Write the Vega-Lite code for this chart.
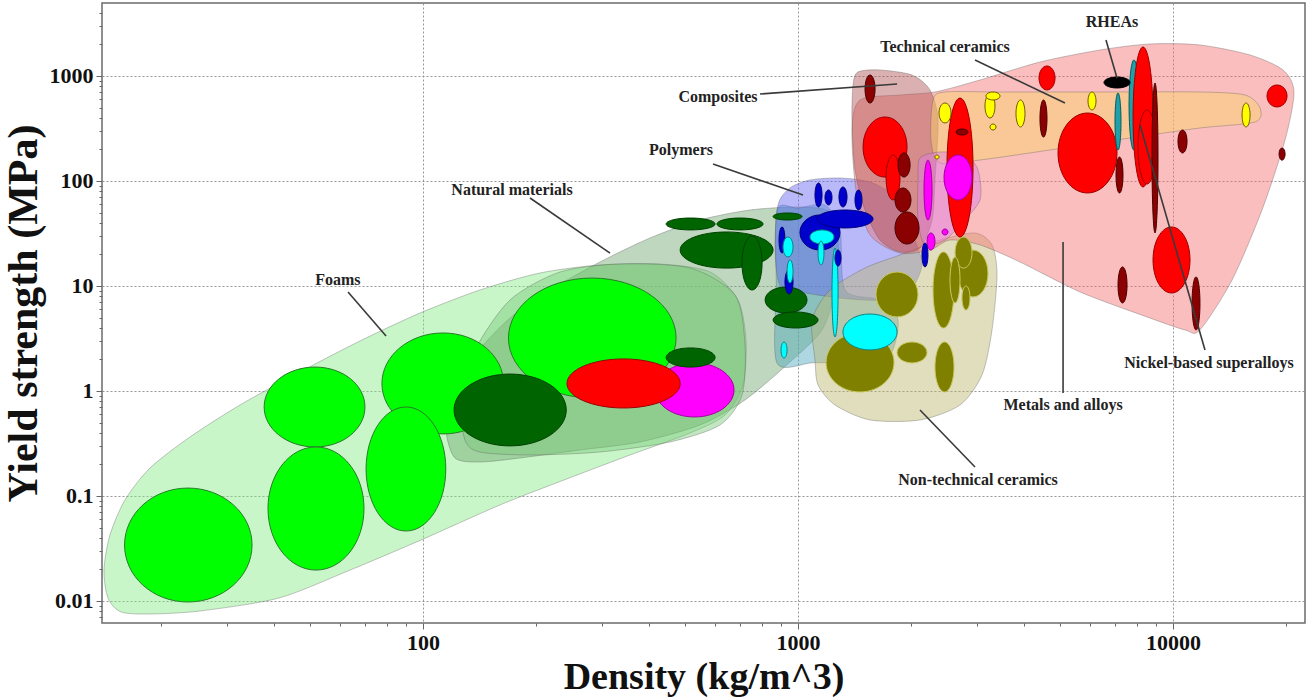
{
  "$schema": "https://vega.github.io/schema/vega-lite/v6.json",
  "width": 1203,
  "height": 620,
  "autosize": {"type": "none"},
  "padding": {"left": 102, "top": 3, "right": 2, "bottom": 75},
  "background": "white",
  "config": {"view": {"stroke": "#6b6b6b", "strokeWidth": 1.5}, "font": "Liberation Serif"},
  "resolve": {"scale": {"fill": "independent", "stroke": "independent"}},
  "datasets": {
    "env": [
      {"g":"a","i":0,"x":15.66,"y":0.00786},{"g":"a","i":1,"x":14.45,"y":0.01068},{"g":"a","i":2,"x":14.1,"y":0.01973},{"g":"a","i":3,"x":14.63,"y":0.0425},{"g":"a","i":4,"x":16.04,"y":0.0916},{"g":"a","i":5,"x":18.71,"y":0.1848},{"g":"a","i":6,"x":23.91,"y":0.3646},{"g":"a","i":7,"x":32.51,"y":0.7356},{"g":"a","i":8,"x":46.99,"y":1.517},{"g":"a","i":9,"x":67.92,"y":2.994},{"g":"a","i":10,"x":98.2,"y":5.53},{"g":"a","i":11,"x":141.9,"y":9.16},{"g":"a","i":12,"x":205.1,"y":13.3},{"g":"a","i":13,"x":296.5,"y":15.85},{"g":"a","i":14,"x":428.5,"y":16.2},{"g":"a","i":15,"x":582.6,"y":13.6},{"g":"a","i":16,"x":691.8,"y":7.36},{"g":"a","i":17,"x":726.6,"y":3.06},{"g":"a","i":18,"x":713.4,"y":1.141},{"g":"a","i":19,"x":638.8,"y":0.591},{"g":"a","i":20,"x":515.2,"y":0.398},{"g":"a","i":21,"x":356.5,"y":0.2457},{"g":"a","i":22,"x":237.7,"y":0.142},{"g":"a","i":23,"x":160.4,"y":0.0821},{"g":"a","i":24,"x":98.8,"y":0.0381},{"g":"a","i":25,"x":63.9,"y":0.0197},{"g":"a","i":26,"x":41.3,"y":0.01068},{"g":"a","i":27,"x":25.43,"y":0.00803},{"g":"a","i":28,"x":18.71,"y":0.00752},
      {"g":"b","i":0,"x":121.7,"y":0.2301},{"g":"b","i":1,"x":115.2,"y":0.4252},{"g":"b","i":2,"x":119.5,"y":0.9161},{"g":"b","i":3,"x":137.6,"y":2.202},{"g":"b","i":4,"x":170.6,"y":4.96},{"g":"b","i":5,"x":218.2,"y":9.16},{"g":"b","i":6,"x":296.5,"y":16.93},{"g":"b","i":7,"x":403,"y":28.65},{"g":"b","i":8,"x":548,"y":42.5},{"g":"b","i":9,"x":744.7,"y":52.9},{"g":"b","i":10,"x":1012,"y":56.6},{"g":"b","i":11,"x":1217,"y":50.7},{"g":"b","i":12,"x":1279,"y":27.4},{"g":"b","i":13,"x":1255,"y":9.16},{"g":"b","i":14,"x":1159,"y":3.81},{"g":"b","i":15,"x":952,"y":1.889},{"g":"b","i":16,"x":722.2,"y":0.821},{"g":"b","i":17,"x":548,"y":0.4746},{"g":"b","i":18,"x":379,"y":0.3268},{"g":"b","i":19,"x":262.2,"y":0.2742},{"g":"b","i":20,"x":181.4,"y":0.2301},{"g":"b","i":21,"x":141.9,"y":0.2108},
      {"g":"c","i":0,"x":129.4,"y":0.3415},{"g":"c","i":1,"x":125.5,"y":0.821},{"g":"c","i":2,"x":137.6,"y":2.457},{"g":"c","i":3,"x":170.6,"y":7.36},{"g":"c","i":4,"x":231.9,"y":13.6},{"g":"c","i":5,"x":335.2,"y":16.2},{"g":"c","i":6,"x":515.2,"y":14.84},{"g":"c","i":7,"x":679.2,"y":8.21},{"g":"c","i":8,"x":722.2,"y":2.743},{"g":"c","i":9,"x":709,"y":0.916},{"g":"c","i":10,"x":619.4,"y":0.4746},{"g":"c","i":11,"x":455.7,"y":0.3268},{"g":"c","i":12,"x":296.5,"y":0.2624},{"g":"c","i":13,"x":192.9,"y":0.2457},{"g":"c","i":14,"x":141.9,"y":0.2624},
      {"g":"d","i":0,"x":879,"y":52.9},{"g":"d","i":1,"x":1000,"y":55},{"g":"d","i":2,"x":1180,"y":59.1},{"g":"d","i":3,"x":1294,"y":34.15},{"g":"d","i":4,"x":1335,"y":9.16},{"g":"d","i":5,"x":1654,"y":7.36},{"g":"d","i":6,"x":1848,"y":4.745},{"g":"d","i":7,"x":1759,"y":2.202},{"g":"d","i":8,"x":1463,"y":1.889},{"g":"d","i":9,"x":1100,"y":1.86},{"g":"d","i":10,"x":879,"y":1.848},{"g":"d","i":11,"x":875,"y":10},
      {"g":"e","i":0,"x":884.4,"y":59.1},{"g":"e","i":1,"x":952,"y":85.8},{"g":"e","i":2,"x":1076,"y":102.2},{"g":"e","i":3,"x":1294,"y":106.8},{"g":"e","i":4,"x":1556,"y":97.8},{"g":"e","i":5,"x":1792,"y":73.6},{"g":"e","i":6,"x":1929,"y":47.5},{"g":"e","i":7,"x":2051,"y":27.4},{"g":"e","i":8,"x":2141,"y":15.85},{"g":"e","i":9,"x":1990,"y":9.16},{"g":"e","i":10,"x":1654,"y":7.36},{"g":"e","i":11,"x":1294,"y":7.69},{"g":"e","i":12,"x":1012,"y":8.77},{"g":"e","i":13,"x":895.4,"y":10.2},{"g":"e","i":14,"x":868.5,"y":22},
      {"g":"f","i":0,"x":1110,"y":1.973},{"g":"f","i":1,"x":1090,"y":4.745},{"g":"f","i":2,"x":1217,"y":9.16},{"g":"f","i":3,"x":1509,"y":14.84},{"g":"f","i":4,"x":1871,"y":19.73},{"g":"f","i":5,"x":2391,"y":27.4},{"g":"f","i":6,"x":2965,"y":31.97},{"g":"f","i":7,"x":3291,"y":24.6},{"g":"f","i":8,"x":3394,"y":12.73},{"g":"f","i":9,"x":3291,"y":3.81},{"g":"f","i":10,"x":3095,"y":1.42},{"g":"f","i":11,"x":2704,"y":0.7356},{"g":"f","i":12,"x":2115,"y":0.5296},{"g":"f","i":13,"x":1556,"y":0.5296},{"g":"f","i":14,"x":1255,"y":0.7356},{"g":"f","i":15,"x":1131,"y":1.141},
      {"g":"g","i":0,"x":1393,"y":306},{"g":"g","i":1,"x":1463,"y":591},{"g":"g","i":2,"x":1871,"y":659},{"g":"g","i":3,"x":2319,"y":704},{"g":"g","i":4,"x":3057,"y":916},{"g":"g","i":5,"x":4418,"y":1359},{"g":"g","i":6,"x":6389,"y":1769},{"g":"g","i":7,"x":8683,"y":2018},{"g":"g","i":8,"x":11800,"y":1974},{"g":"g","i":9,"x":16050,"y":1585},{"g":"g","i":10,"x":19650,"y":1141},{"g":"g","i":11,"x":21020,"y":704},{"g":"g","i":12,"x":19900,"y":245.8},{"g":"g","i":13,"x":17270,"y":52.9},{"g":"g","i":14,"x":14370,"y":11.4},{"g":"g","i":15,"x":11800,"y":3.81},{"g":"g","i":16,"x":10770,"y":3.81},{"g":"g","i":17,"x":8525,"y":5.07},{"g":"g","i":18,"x":5649,"y":8.77},{"g":"g","i":19,"x":3908,"y":16.93},{"g":"g","i":20,"x":3057,"y":24.6},{"g":"g","i":21,"x":2543,"y":27.4},{"g":"g","i":22,"x":2249,"y":22},{"g":"g","i":23,"x":1871,"y":20.6},{"g":"g","i":24,"x":1556,"y":30.6},{"g":"g","i":25,"x":1428,"y":82.1},
      {"g":"h","i":0,"x":1445,"y":1092},{"g":"h","i":1,"x":1654,"y":1141},{"g":"h","i":2,"x":2014,"y":1022},{"g":"h","i":3,"x":2249,"y":735.6},{"g":"h","i":4,"x":2362,"y":381},{"g":"h","i":5,"x":2319,"y":102.2},{"g":"h","i":6,"x":2277,"y":42.5},{"g":"h","i":7,"x":2115,"y":23},{"g":"h","i":8,"x":1871,"y":21.1},{"g":"h","i":9,"x":1654,"y":27.4},{"g":"h","i":10,"x":1509,"y":52.9},{"g":"h","i":11,"x":1419,"y":127.3},{"g":"h","i":12,"x":1393,"y":381},{"g":"h","i":13,"x":1402,"y":821},
      {"g":"i","i":0,"x":2291,"y":591},{"g":"i","i":1,"x":2466,"y":704},{"g":"i","i":2,"x":3457,"y":704},{"g":"i","i":3,"x":6389,"y":704},{"g":"i","i":4,"x":11800,"y":704},{"g":"i","i":5,"x":15560,"y":659},{"g":"i","i":6,"x":17060,"y":495.7},{"g":"i","i":7,"x":16550,"y":364.7},{"g":"i","i":8,"x":11800,"y":319.7},{"g":"i","i":9,"x":7681,"y":256.7},{"g":"i","i":10,"x":4699,"y":197.4},{"g":"i","i":11,"x":3057,"y":158.5},{"g":"i","i":12,"x":2391,"y":148.4},{"g":"i","i":13,"x":2262,"y":245.8},
      {"g":"j","i":0,"x":2115,"y":165.6},{"g":"j","i":1,"x":2391,"y":188.9},{"g":"j","i":2,"x":2788,"y":176.9},{"g":"j","i":3,"x":3020,"y":127.3},{"g":"j","i":4,"x":3057,"y":65.9},{"g":"j","i":5,"x":2704,"y":38.1},{"g":"j","i":6,"x":2466,"y":27.4},{"g":"j","i":7,"x":2181,"y":24.6},{"g":"j","i":8,"x":2089,"y":42.5},{"g":"j","i":9,"x":2089,"y":102.2}
    ],
    "ell": [
      {"e":"e01","k":"lime","i":0,"x":16.0,"y":0.03415},{"e":"e01","k":"lime","i":1,"x":23.62,"y":0.119},{"e":"e01","k":"lime","i":2,"x":35.0,"y":0.03415},{"e":"e01","k":"lime","i":3,"x":23.62,"y":0.00978},
      {"e":"e02","k":"lime","i":0,"x":37.7,"y":0.704},{"e":"e02","k":"lime","i":1,"x":51.52,"y":1.69},{"e":"e02","k":"lime","i":2,"x":70.0,"y":0.704},{"e":"e02","k":"lime","i":3,"x":51.52,"y":0.293},
      {"e":"e03","k":"lime","i":0,"x":38.6,"y":0.07603},{"e":"e03","k":"lime","i":1,"x":51.84,"y":0.293},{"e":"e03","k":"lime","i":2,"x":69.6,"y":0.07603},{"e":"e03","k":"lime","i":3,"x":51.84,"y":0.0197},
      {"e":"e04","k":"lime","i":0,"x":77.7,"y":1.179},{"e":"e04","k":"lime","i":1,"x":113.1,"y":3.57},{"e":"e04","k":"lime","i":2,"x":164,"y":1.179},{"e":"e04","k":"lime","i":3,"x":113.1,"y":0.39},
      {"e":"e05","k":"lime","i":0,"x":70.5,"y":0.1808},{"e":"e05","k":"lime","i":1,"x":90.1,"y":0.704},{"e":"e05","k":"lime","i":2,"x":115,"y":0.1808},{"e":"e05","k":"lime","i":3,"x":90.1,"y":0.0464},
      {"e":"e06","k":"lime","i":0,"x":169,"y":3.197},{"e":"e06","k":"lime","i":1,"x":282.3,"y":11.9},{"e":"e06","k":"lime","i":2,"x":473,"y":3.197},{"e":"e06","k":"lime","i":3,"x":282.3,"y":0.858},
      {"e":"e07","k":"darkgreen","i":0,"x":121,"y":0.659},{"e":"e07","k":"darkgreen","i":1,"x":170.6,"y":1.45},{"e":"e07","k":"darkgreen","i":2,"x":241,"y":0.659},{"e":"e07","k":"darkgreen","i":3,"x":170.6,"y":0.3},
      {"e":"e08","k":"magenta","i":0,"x":416,"y":1.022},{"e":"e08","k":"magenta","i":1,"x":529.7,"y":1.85},{"e":"e08","k":"magenta","i":2,"x":675,"y":1.022},{"e":"e08","k":"magenta","i":3,"x":529.7,"y":0.566},
      {"e":"e09","k":"red","i":0,"x":242,"y":1.179},{"e":"e09","k":"red","i":1,"x":342.6,"y":2.02},{"e":"e09","k":"red","i":2,"x":485,"y":1.179},{"e":"e09","k":"red","i":3,"x":342.6,"y":0.689},
      {"e":"e10","k":"darkgreen","i":0,"x":445,"y":2.085},{"e":"e10","k":"darkgreen","i":1,"x":516.8,"y":2.57},{"e":"e10","k":"darkgreen","i":2,"x":601,"y":2.085},{"e":"e10","k":"darkgreen","i":3,"x":516.8,"y":1.69},
      {"e":"e11","k":"darkgreen","i":0,"x":445,"y":38.95},{"e":"e11","k":"darkgreen","i":1,"x":516.8,"y":44.4},{"e":"e11","k":"darkgreen","i":2,"x":601,"y":38.95},{"e":"e11","k":"darkgreen","i":3,"x":516.8,"y":34.2},
      {"e":"e12","k":"darkgreen","i":0,"x":608,"y":38.95},{"e":"e12","k":"darkgreen","i":1,"x":700.3,"y":44.4},{"e":"e12","k":"darkgreen","i":2,"x":807,"y":38.95},{"e":"e12","k":"darkgreen","i":3,"x":700.3,"y":34.2},
      {"e":"e13","k":"darkgreen","i":0,"x":485,"y":22.0},{"e":"e13","k":"darkgreen","i":1,"x":644.8,"y":32.7},{"e":"e13","k":"darkgreen","i":2,"x":858,"y":22.0},{"e":"e13","k":"darkgreen","i":3,"x":644.8,"y":14.8},
      {"e":"e14","k":"darkgreen","i":0,"x":709,"y":16.56},{"e":"e14","k":"darkgreen","i":1,"x":754.2,"y":29.9},{"e":"e14","k":"darkgreen","i":2,"x":802,"y":16.56},{"e":"e14","k":"darkgreen","i":3,"x":754.2,"y":9.16},
      {"e":"e15","k":"darkgreen","i":0,"x":858,"y":45.9},{"e":"e15","k":"darkgreen","i":1,"x":937.6,"y":49.6},{"e":"e15","k":"darkgreen","i":2,"x":1025,"y":45.9},{"e":"e15","k":"darkgreen","i":3,"x":937.6,"y":42.5},
      {"e":"e16","k":"darkgreen","i":0,"x":817,"y":7.36},{"e":"e16","k":"darkgreen","i":1,"x":929,"y":9.78},{"e":"e16","k":"darkgreen","i":2,"x":1057,"y":7.36},{"e":"e16","k":"darkgreen","i":3,"x":929,"y":5.53},
      {"e":"e17","k":"darkgreen","i":0,"x":858,"y":4.745},{"e":"e17","k":"darkgreen","i":1,"x":984.7,"y":5.66},{"e":"e17","k":"darkgreen","i":2,"x":1131,"y":4.745},{"e":"e17","k":"darkgreen","i":3,"x":984.7,"y":3.98},
      {"e":"e18","k":"blue","i":0,"x":1012,"y":32.3},{"e":"e18","k":"blue","i":1,"x":1145,"y":47.5},{"e":"e18","k":"blue","i":2,"x":1294,"y":32.3},{"e":"e18","k":"blue","i":3,"x":1145,"y":22.0},
      {"e":"e19","k":"blue","i":0,"x":1110,"y":73.6},{"e":"e19","k":"blue","i":1,"x":1134,"y":95.7},{"e":"e19","k":"blue","i":2,"x":1159,"y":73.6},{"e":"e19","k":"blue","i":3,"x":1134,"y":56.6},
      {"e":"e20","k":"blue","i":0,"x":1180,"y":69.7},{"e":"e20","k":"blue","i":1,"x":1206,"y":82.1},{"e":"e20","k":"blue","i":2,"x":1232,"y":69.7},{"e":"e20","k":"blue","i":3,"x":1206,"y":59.1},
      {"e":"e21","k":"blue","i":0,"x":1286,"y":70.4},{"e":"e21","k":"blue","i":1,"x":1318,"y":87.7},{"e":"e21","k":"blue","i":2,"x":1351,"y":70.4},{"e":"e21","k":"blue","i":3,"x":1318,"y":56.6},
      {"e":"e22","k":"blue","i":0,"x":1419,"y":65.9},{"e":"e22","k":"blue","i":1,"x":1450,"y":82.1},{"e":"e22","k":"blue","i":2,"x":1481,"y":65.9},{"e":"e22","k":"blue","i":3,"x":1450,"y":52.9},
      {"e":"e23","k":"blue","i":0,"x":1124,"y":43.5},{"e":"e23","k":"blue","i":1,"x":1335,"y":52.9},{"e":"e23","k":"blue","i":2,"x":1585,"y":43.5},{"e":"e23","k":"blue","i":3,"x":1335,"y":35.7},
      {"e":"e24","k":"cyan","i":0,"x":1076,"y":29.3},{"e":"e24","k":"cyan","i":1,"x":1159,"y":34.2},{"e":"e24","k":"cyan","i":2,"x":1247,"y":29.3},{"e":"e24","k":"cyan","i":3,"x":1159,"y":25.1},
      {"e":"e25","k":"cyan","i":0,"x":1131,"y":20.6},{"e":"e25","k":"cyan","i":1,"x":1152,"y":26.8},{"e":"e25","k":"cyan","i":2,"x":1173,"y":20.6},{"e":"e25","k":"cyan","i":3,"x":1152,"y":15.9},
      {"e":"e26","k":"blue","i":0,"x":890,"y":27.4},{"e":"e26","k":"blue","i":1,"x":906.6,"y":36.5},{"e":"e26","k":"blue","i":2,"x":923,"y":27.4},{"e":"e26","k":"blue","i":3,"x":906.6,"y":20.6},
      {"e":"e27","k":"cyan","i":0,"x":912,"y":23.5},{"e":"e27","k":"cyan","i":1,"x":940.6,"y":29.3},{"e":"e27","k":"cyan","i":2,"x":970,"y":23.5},{"e":"e27","k":"cyan","i":3,"x":940.6,"y":18.9},
      {"e":"e28","k":"blue","i":0,"x":923,"y":10.92},{"e":"e28","k":"blue","i":1,"x":946.4,"y":14.2},{"e":"e28","k":"blue","i":2,"x":970,"y":10.92},{"e":"e28","k":"blue","i":3,"x":946.4,"y":8.39},
      {"e":"e29","k":"cyan","i":0,"x":935,"y":13.75},{"e":"e29","k":"cyan","i":1,"x":952,"y":17.7},{"e":"e29","k":"cyan","i":2,"x":970,"y":13.75},{"e":"e29","k":"cyan","i":3,"x":952,"y":10.7},
      {"e":"e30","k":"cyan","i":0,"x":1232,"y":8.67},{"e":"e30","k":"cyan","i":1,"x":1255,"y":23.0},{"e":"e30","k":"cyan","i":2,"x":1279,"y":8.67},{"e":"e30","k":"cyan","i":3,"x":1255,"y":3.27},
      {"e":"e31","k":"blue","i":0,"x":1255,"y":18.48},{"e":"e31","k":"blue","i":1,"x":1279,"y":22.0},{"e":"e31","k":"blue","i":2,"x":1302,"y":18.48},{"e":"e31","k":"blue","i":3,"x":1279,"y":15.5},
      {"e":"e32","k":"cyan","i":0,"x":901,"y":2.46},{"e":"e32","k":"cyan","i":1,"x":917.8,"y":2.93},{"e":"e32","k":"cyan","i":2,"x":935,"y":2.46},{"e":"e32","k":"cyan","i":3,"x":917.8,"y":2.06},
      {"e":"e33","k":"olive","i":0,"x":1188,"y":1.868},{"e":"e33","k":"olive","i":1,"x":1463,"y":3.57},{"e":"e33","k":"olive","i":2,"x":1803,"y":1.868},{"e":"e33","k":"olive","i":3,"x":1463,"y":0.978},
      {"e":"e34","k":"cyan","i":0,"x":1318,"y":3.646},{"e":"e34","k":"cyan","i":1,"x":1556,"y":5.41},{"e":"e34","k":"cyan","i":2,"x":1837,"y":3.646},{"e":"e34","k":"cyan","i":3,"x":1556,"y":2.46},
      {"e":"e35","k":"olive","i":0,"x":1614,"y":8.3},{"e":"e35","k":"olive","i":1,"x":1837,"y":13.6},{"e":"e35","k":"olive","i":2,"x":2089,"y":8.3},{"e":"e35","k":"olive","i":3,"x":1837,"y":5.07},
      {"e":"e36","k":"olive","i":0,"x":1837,"y":2.326},{"e":"e36","k":"olive","i":1,"x":2014,"y":2.93},{"e":"e36","k":"olive","i":2,"x":2208,"y":2.326},{"e":"e36","k":"olive","i":3,"x":2014,"y":1.85},
      {"e":"e37","k":"olive","i":0,"x":2291,"y":9.16},{"e":"e37","k":"olive","i":1,"x":2443,"y":21.1},{"e":"e37","k":"olive","i":2,"x":2606,"y":9.16},{"e":"e37","k":"olive","i":3,"x":2443,"y":3.98},
      {"e":"e38","k":"olive","i":0,"x":2319,"y":1.692},{"e":"e38","k":"olive","i":1,"x":2459,"y":2.93},{"e":"e38","k":"olive","i":2,"x":2606,"y":1.692},{"e":"e38","k":"olive","i":3,"x":2459,"y":0.978},
      {"e":"e39","k":"olive","i":0,"x":2671,"y":13.15},{"e":"e39","k":"olive","i":1,"x":2929,"y":22.0},{"e":"e39","k":"olive","i":2,"x":3211,"y":13.15},{"e":"e39","k":"olive","i":3,"x":2929,"y":7.86},
      {"e":"e40","k":"olive","i":0,"x":2623,"y":20.84},{"e":"e40","k":"olive","i":1,"x":2763,"y":29.3},{"e":"e40","k":"olive","i":2,"x":2911,"y":20.84},{"e":"e40","k":"olive","i":3,"x":2763,"y":14.8},
      {"e":"e41","k":"olive","i":0,"x":2543,"y":11.4},{"e":"e41","k":"olive","i":1,"x":2623,"y":18.9},{"e":"e41","k":"olive","i":2,"x":2704,"y":11.4},{"e":"e41","k":"olive","i":3,"x":2623,"y":6.89},
      {"e":"e42","k":"olive","i":0,"x":2737,"y":7.69},{"e":"e42","k":"olive","i":1,"x":2805,"y":10.0},{"e":"e42","k":"olive","i":2,"x":2875,"y":7.69},{"e":"e42","k":"olive","i":3,"x":2805,"y":5.91},
      {"e":"e43","k":"red","i":0,"x":1491,"y":210.8},{"e":"e43","k":"red","i":1,"x":1706,"y":407},{"e":"e43","k":"red","i":2,"x":1953,"y":210.8},{"e":"e43","k":"red","i":3,"x":1706,"y":109},
      {"e":"e44","k":"red","i":0,"x":1717,"y":108},{"e":"e44","k":"red","i":1,"x":1792,"y":177},{"e":"e44","k":"red","i":2,"x":1871,"y":108},{"e":"e44","k":"red","i":3,"x":1792,"y":65.9},
      {"e":"e45","k":"darkred","i":0,"x":1509,"y":752},{"e":"e45","k":"darkred","i":1,"x":1556,"y":1022},{"e":"e45","k":"darkred","i":2,"x":1605,"y":752},{"e":"e45","k":"darkred","i":3,"x":1556,"y":553},
      {"e":"e46","k":"darkred","i":0,"x":1848,"y":142.1},{"e":"e46","k":"darkred","i":1,"x":1917,"y":185},{"e":"e46","k":"darkred","i":2,"x":1990,"y":142.1},{"e":"e46","k":"darkred","i":3,"x":1917,"y":109},
      {"e":"e47","k":"darkred","i":0,"x":1814,"y":65.9},{"e":"e47","k":"darkred","i":1,"x":1905,"y":85.8},{"e":"e47","k":"darkred","i":2,"x":2001,"y":65.9},{"e":"e47","k":"darkred","i":3,"x":1905,"y":50.7},
      {"e":"e48","k":"darkred","i":0,"x":1814,"y":35.7},{"e":"e48","k":"darkred","i":1,"x":1953,"y":50.7},{"e":"e48","k":"darkred","i":2,"x":2102,"y":35.7},{"e":"e48","k":"darkred","i":3,"x":1953,"y":25.1},
      {"e":"e49","k":"red","i":0,"x":2496,"y":134.5},{"e":"e49","k":"red","i":1,"x":2704,"y":617},{"e":"e49","k":"red","i":2,"x":2929,"y":134.5},{"e":"e49","k":"red","i":3,"x":2704,"y":29.3},
      {"e":"e50","k":"darkred","i":0,"x":2639,"y":292.9},{"e":"e50","k":"darkred","i":1,"x":2737,"y":313},{"e":"e50","k":"darkred","i":2,"x":2840,"y":292.9},{"e":"e50","k":"darkred","i":3,"x":2737,"y":274},
      {"e":"e51","k":"magenta","i":0,"x":2451,"y":108},{"e":"e51","k":"magenta","i":1,"x":2671,"y":177},{"e":"e51","k":"magenta","i":2,"x":2911,"y":108},{"e":"e51","k":"magenta","i":3,"x":2671,"y":65.9},
      {"e":"e52","k":"magenta","i":0,"x":2168,"y":82.1},{"e":"e52","k":"magenta","i":1,"x":2221,"y":158},{"e":"e52","k":"magenta","i":2,"x":2277,"y":82.1},{"e":"e52","k":"magenta","i":3,"x":2221,"y":42.5},
      {"e":"e53","k":"magenta","i":0,"x":2208,"y":26.5},{"e":"e53","k":"magenta","i":1,"x":2262,"y":32.0},{"e":"e53","k":"magenta","i":2,"x":2319,"y":26.5},{"e":"e53","k":"magenta","i":3,"x":2262,"y":22.0},
      {"e":"e54","k":"magenta","i":0,"x":2421,"y":32.7},{"e":"e54","k":"magenta","i":1,"x":2466,"y":34.9},{"e":"e54","k":"magenta","i":2,"x":2512,"y":32.7},{"e":"e54","k":"magenta","i":3,"x":2466,"y":30.6},
      {"e":"e55","k":"blue","i":0,"x":2141,"y":19.73},{"e":"e55","k":"blue","i":1,"x":2181,"y":25.7},{"e":"e55","k":"blue","i":2,"x":2221,"y":19.73},{"e":"e55","k":"blue","i":3,"x":2181,"y":15.2},
      {"e":"e56","k":"red","i":0,"x":4392,"y":957},{"e":"e56","k":"red","i":1,"x":4613,"y":1245},{"e":"e56","k":"red","i":2,"x":4846,"y":957},{"e":"e56","k":"red","i":3,"x":4613,"y":736},
      {"e":"e57","k":"darkred","i":0,"x":4418,"y":393.9},{"e":"e57","k":"darkred","i":1,"x":4515,"y":591},{"e":"e57","k":"darkred","i":2,"x":4613,"y":393.9},{"e":"e57","k":"darkred","i":3,"x":4515,"y":262},
      {"e":"e58","k":"red","i":0,"x":4936,"y":184.8},{"e":"e58","k":"red","i":1,"x":5916,"y":444},{"e":"e58","k":"red","i":2,"x":7090,"y":184.8},{"e":"e58","k":"red","i":3,"x":5916,"y":76.9},
      {"e":"e59","k":"darkred","i":0,"x":7047,"y":114.1},{"e":"e59","k":"darkred","i":1,"x":7200,"y":169},{"e":"e59","k":"darkred","i":2,"x":7356,"y":114.1},{"e":"e59","k":"darkred","i":3,"x":7200,"y":76.9},
      {"e":"e60","k":"teal","i":0,"x":7004,"y":368.6},{"e":"e60","k":"teal","i":1,"x":7134,"y":689},{"e":"e60","k":"teal","i":2,"x":7266,"y":368.6},{"e":"e60","k":"teal","i":3,"x":7134,"y":197},
      {"e":"e61","k":"teal","i":0,"x":7635,"y":529.5},{"e":"e61","k":"teal","i":1,"x":7870,"y":1420},{"e":"e61","k":"teal","i":2,"x":8118,"y":529.5},{"e":"e61","k":"teal","i":3,"x":7870,"y":197},
      {"e":"e62","k":"red","i":0,"x":7825,"y":407},{"e":"e62","k":"red","i":1,"x":8318,"y":1889},{"e":"e62","k":"red","i":2,"x":8845,"y":407},{"e":"e62","k":"red","i":3,"x":8318,"y":87.7},
      {"e":"e63","k":"red","i":0,"x":8068,"y":210.8},{"e":"e63","k":"red","i":1,"x":8525,"y":475},{"e":"e63","k":"red","i":2,"x":9010,"y":210.8},{"e":"e63","k":"red","i":3,"x":8525,"y":93.6},
      {"e":"e64","k":"darkred","i":0,"x":8790,"y":165.6},{"e":"e64","k":"darkred","i":1,"x":8954,"y":858},{"e":"e64","k":"darkred","i":2,"x":9120,"y":165.6},{"e":"e64","k":"darkred","i":3,"x":8954,"y":32.0},
      {"e":"e65","k":"darkred","i":0,"x":10310,"y":237.8},{"e":"e65","k":"darkred","i":1,"x":10600,"y":306},{"e":"e65","k":"darkred","i":2,"x":10900,"y":237.8},{"e":"e65","k":"darkred","i":3,"x":10600,"y":185},
      {"e":"e66","k":"red","i":0,"x":8845,"y":17.7},{"e":"e66","k":"red","i":1,"x":9908,"y":36.5},{"e":"e66","k":"red","i":2,"x":11100,"y":17.7},{"e":"e66","k":"red","i":3,"x":9908,"y":8.58},
      {"e":"e67","k":"darkred","i":0,"x":7134,"y":10.2},{"e":"e67","k":"darkred","i":1,"x":7334,"y":15.2},{"e":"e67","k":"darkred","i":2,"x":7541,"y":10.2},{"e":"e67","k":"darkred","i":3,"x":7334,"y":6.89},
      {"e":"e68","k":"darkred","i":0,"x":11240,"y":6.81},{"e":"e68","k":"darkred","i":1,"x":11520,"y":12.2},{"e":"e68","k":"darkred","i":2,"x":11800,"y":6.81},{"e":"e68","k":"darkred","i":3,"x":11520,"y":3.81},
      {"e":"e69","k":"red","i":0,"x":17810,"y":645},{"e":"e69","k":"red","i":1,"x":18940,"y":821},{"e":"e69","k":"red","i":2,"x":20140,"y":645},{"e":"e69","k":"red","i":3,"x":18940,"y":507},
      {"e":"e70","k":"darkred","i":0,"x":19180,"y":180.8},{"e":"e70","k":"darkred","i":1,"x":19530,"y":206},{"e":"e70","k":"darkred","i":2,"x":19900,"y":180.8},{"e":"e70","k":"darkred","i":3,"x":19530,"y":158},
      {"e":"e71","k":"yellow","i":0,"x":2377,"y":444.2},{"e":"e71","k":"yellow","i":1,"x":2466,"y":553},{"e":"e71","k":"yellow","i":2,"x":2559,"y":444.2},{"e":"e71","k":"yellow","i":3,"x":2466,"y":357},
      {"e":"e72","k":"yellow","i":0,"x":3152,"y":518},{"e":"e72","k":"yellow","i":1,"x":3251,"y":674},{"e":"e72","k":"yellow","i":2,"x":3352,"y":518},{"e":"e72","k":"yellow","i":3,"x":3251,"y":398},
      {"e":"e73","k":"yellow","i":0,"x":3171,"y":645},{"e":"e73","k":"yellow","i":1,"x":3311,"y":704},{"e":"e73","k":"yellow","i":2,"x":3457,"y":645},{"e":"e73","k":"yellow","i":3,"x":3311,"y":591},
      {"e":"e74","k":"yellow","i":0,"x":3251,"y":326.8},{"e":"e74","k":"yellow","i":1,"x":3311,"y":349},{"e":"e74","k":"yellow","i":2,"x":3373,"y":326.8},{"e":"e74","k":"yellow","i":3,"x":3311,"y":306},
      {"e":"e75","k":"yellow","i":0,"x":3813,"y":439.4},{"e":"e75","k":"yellow","i":1,"x":3920,"y":591},{"e":"e75","k":"yellow","i":2,"x":4030,"y":439.4},{"e":"e75","k":"yellow","i":3,"x":3920,"y":327},
      {"e":"e76","k":"yellow","i":0,"x":5934,"y":578},{"e":"e76","k":"yellow","i":1,"x":6081,"y":704},{"e":"e76","k":"yellow","i":2,"x":6233,"y":578},{"e":"e76","k":"yellow","i":3,"x":6081,"y":475},
      {"e":"e77","k":"yellow","i":0,"x":15280,"y":425.3},{"e":"e77","k":"yellow","i":1,"x":15660,"y":553},{"e":"e77","k":"yellow","i":2,"x":16050,"y":425.3},{"e":"e77","k":"yellow","i":3,"x":15660,"y":327},
      {"e":"e78","k":"yellow","i":0,"x":2319,"y":169.3},{"e":"e78","k":"yellow","i":1,"x":2348,"y":177},{"e":"e78","k":"yellow","i":2,"x":2377,"y":169.3},{"e":"e78","k":"yellow","i":3,"x":2348,"y":162},
      {"e":"e79","k":"black","i":0,"x":6546,"y":867.5},{"e":"e79","k":"black","i":1,"x":7090,"y":978},{"e":"e79","k":"black","i":2,"x":7681,"y":867.5},{"e":"e79","k":"black","i":3,"x":7090,"y":769}
    ],
    "lead": [
      {"x1":6626,"y1":2202,"x2":7090,"y2":957},
      {"x1":2965,"y1":1420,"x2":5152,"y2":553},
      {"x1":792,"y1":674,"x2":1837,"y2":839},
      {"x1":593.4,"y1":145.2,"x2":1031,"y2":73.6},
      {"x1":192.9,"y1":68.9,"x2":315.3,"y2":20.6},
      {"x1":63.1,"y1":8.77,"x2":79.7,"y2":3.34},
      {"x1":8166,"y1":341.5,"x2":12170,"y2":2.46},
      {"x1":5091,"y1":26.2,"x2":5091,"y2":0.957},
      {"x1":2115,"y1":0.659,"x2":2965,"y2":0.189}
    ],
    "lab": [
      {"x":6875,"y":3268,"t":"RHEAs"},
      {"x":2466,"y":1889,"t":"Technical ceramics"},
      {"x":611.8,"y":631,"t":"Composites"},
      {"x":487.5,"y":197.4,"t":"Polymers"},
      {"x":172.7,"y":82.1,"t":"Natural materials"},
      {"x":59.3,"y":11.4,"t":"Foams"},
      {"x":12470,"y":1.848,"t":"Nickel-based superalloys"},
      {"x":5091,"y":0.7356,"t":"Metals and alloys"},
      {"x":3020,"y":0.142,"t":"Non-technical ceramics"}
    ]
  },
  "layer": [
    {
      "data": {"name": "env"},
      "mark": {"type": "line", "interpolate": "cardinal-closed", "tension": 0.2, "fillOpacity": 0.45, "stroke": "#5a5a5a", "strokeOpacity": 0.35, "strokeWidth": 1},
      "encoding": {
        "x": {"field": "x", "type": "quantitative", "scale": {"type": "log", "domain": [13.93, 22490], "nice": false},
          "axis": {"values": [20,30,40,50,60,70,80,90,100,200,300,400,500,600,700,800,900,1000,2000,3000,4000,5000,6000,7000,8000,9000,10000,20000],
            "labelExpr": "abs(log(datum.value)/LN10 - round(log(datum.value)/LN10)) < 1e-6 ? toString(datum.value) : ''",
            "labelOverlap": false, "labelBound": false, "labelFlush": false,
            "title": "Density (kg/m^3)", "grid": true, "gridDash": [2, 2], "gridColor": "#8c8c8c",
            "gridOpacity": {"condition": {"test": "abs(log(datum.value)/LN10 - round(log(datum.value)/LN10)) < 1e-6", "value": 0.9}, "value": 0},
            "tickSize": {"condition": {"test": "abs(log(datum.value)/LN10 - round(log(datum.value)/LN10)) < 1e-6", "value": 6}, "value": 3},
            "domain": false, "tickColor": "#666", "labelFont": "Liberation Serif", "labelFontWeight": "bold", "labelFontSize": 22, "labelColor": "#111", "labelPadding": 3,
            "titleFont": "Liberation Serif", "titleFontSize": 38, "titleFontWeight": "bold", "titleColor": "#111", "titlePadding": 5}},
        "y": {"field": "y", "type": "quantitative", "scale": {"type": "log", "domain": [0.00617, 4957], "nice": false},
          "axis": {"values": [0.007,0.008,0.009,0.01,0.02,0.03,0.04,0.05,0.06,0.07,0.08,0.09,0.1,0.2,0.3,0.4,0.5,0.6,0.7,0.8,0.9,1,2,3,4,5,6,7,8,9,10,20,30,40,50,60,70,80,90,100,200,300,400,500,600,700,800,900,1000,2000,3000,4000],
            "labelExpr": "abs(log(datum.value)/LN10 - round(log(datum.value)/LN10)) < 1e-6 ? toString(datum.value) : ''",
            "labelOverlap": false, "labelBound": false, "labelFlush": false,
            "title": "Yield strength (MPa)", "grid": true, "gridDash": [2, 2], "gridColor": "#8c8c8c",
            "gridOpacity": {"condition": {"test": "abs(log(datum.value)/LN10 - round(log(datum.value)/LN10)) < 1e-6", "value": 0.9}, "value": 0},
            "tickSize": {"condition": {"test": "abs(log(datum.value)/LN10 - round(log(datum.value)/LN10)) < 1e-6", "value": 6}, "value": 3},
            "domain": false, "tickColor": "#666", "labelFont": "Liberation Serif", "labelFontWeight": "bold", "labelFontSize": 22, "labelColor": "#111", "labelPadding": 3,
            "titleFont": "Liberation Serif", "titleFontSize": 42, "titleFontWeight": "bold", "titleColor": "#111", "titlePadding": 4}},
        "fill": {"field": "g", "type": "nominal", "legend": null,
          "scale": {"domain": ["a","b","c","d","e","f","g","h","i","j"],
            "range": ["#85eb85","#6fa66f","#78c878","#4da6bc","#6363f4","#bcb66f","#f46f6f","#ac4f4f","#fad465","#e07be8"]}},
        "order": {"field": "i", "type": "quantitative"}
      }
    },
    {
      "data": {"name": "ell"},
      "mark": {"type": "line", "interpolate": "cardinal-closed", "tension": -0.657, "strokeWidth": 1},
      "encoding": {
        "x": {"field": "x", "type": "quantitative", "scale": {"type": "log", "domain": [13.93, 22490], "nice": false}},
        "y": {"field": "y", "type": "quantitative", "scale": {"type": "log", "domain": [0.00617, 4957], "nice": false}},
        "detail": {"field": "e", "type": "nominal"},
        "order": {"field": "i", "type": "quantitative"},
        "fill": {"field": "k", "type": "nominal", "legend": null,
          "scale": {"domain": ["lime","darkgreen","red","darkred","magenta","blue","cyan","olive","yellow","black","teal"],
            "range": ["#00ff00","#006400","#ff0000","#8b0000","#ff00ff","#0000cd","#00ffff","#808000","#ffff00","#000000","#20a0a8"]}},
        "stroke": {"field": "k", "type": "nominal", "legend": null,
          "scale": {"domain": ["lime","darkgreen","red","darkred","magenta","blue","cyan","olive","yellow","black","teal"],
            "range": ["#2a7a2a","#004000","#9a0000","#4a0000","#a000a0","#00007a","#108080","#c8c860","#6e5a00","#000000","#005a5a"]}}
      }
    },
    {
      "data": {"name": "lead"},
      "mark": {"type": "rule", "color": "#3a3a3a", "strokeWidth": 1.6},
      "encoding": {
        "x": {"field": "x1", "type": "quantitative", "scale": {"type": "log", "domain": [13.93, 22490], "nice": false}},
        "y": {"field": "y1", "type": "quantitative", "scale": {"type": "log", "domain": [0.00617, 4957], "nice": false}},
        "x2": {"field": "x2"},
        "y2": {"field": "y2"}
      }
    },
    {
      "data": {"name": "lab"},
      "mark": {"type": "text", "font": "Liberation Serif", "fontWeight": "bold", "fontSize": 16, "color": "#222", "align": "center", "baseline": "middle"},
      "encoding": {
        "x": {"field": "x", "type": "quantitative", "scale": {"type": "log", "domain": [13.93, 22490], "nice": false}},
        "y": {"field": "y", "type": "quantitative", "scale": {"type": "log", "domain": [0.00617, 4957], "nice": false}},
        "text": {"field": "t"}
      }
    }
  ]
}
